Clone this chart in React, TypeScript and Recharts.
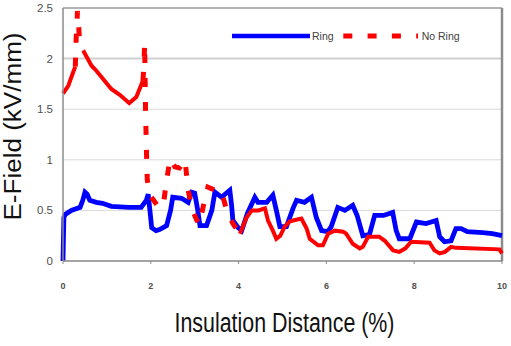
import React from 'react';
import { LineChart, Line, XAxis, YAxis, CartesianGrid, ReferenceLine, Legend, Label } from 'recharts';

// Insulation distance (%) and E-field (kV/mm)
const ringX = [0, 0.02, 0.05, 0.19, 0.39, 0.45, 0.5, 0.55, 0.61, 0.76, 0.9, 1.1, 1.5, 1.78, 1.9, 1.94, 1.98, 2.02, 2.12, 2.2, 2.36, 2.45, 2.5, 2.7, 2.85, 2.93, 3.0, 3.07, 3.12, 3.27, 3.39, 3.46, 3.61, 3.8, 3.84, 3.87, 3.99, 4.07, 4.2, 4.37, 4.44, 4.64, 4.78, 4.86, 4.94, 5.09, 5.24, 5.32, 5.5, 5.66, 5.77, 5.89, 6.03, 6.11, 6.26, 6.42, 6.6, 6.7, 6.83, 6.98, 7.1, 7.3, 7.51, 7.59, 7.66, 7.9, 8.05, 8.27, 8.5, 8.58, 8.69, 8.84, 8.95, 9.07, 9.21, 9.56, 9.78, 10];
const ringY = [0, 0.43, 0.46, 0.5, 0.53, 0.6, 0.68, 0.66, 0.6, 0.58, 0.57, 0.54, 0.53, 0.53, 0.6, 0.66, 0.5, 0.33, 0.3, 0.31, 0.35, 0.5, 0.63, 0.62, 0.58, 0.68, 0.67, 0.5, 0.35, 0.35, 0.5, 0.68, 0.63, 0.7, 0.55, 0.4, 0.33, 0.3, 0.47, 0.63, 0.58, 0.58, 0.65, 0.5, 0.34, 0.34, 0.52, 0.6, 0.58, 0.63, 0.43, 0.3, 0.29, 0.34, 0.53, 0.5, 0.55, 0.45, 0.25, 0.26, 0.45, 0.45, 0.48, 0.3, 0.22, 0.22, 0.385, 0.37, 0.4, 0.24, 0.19, 0.2, 0.32, 0.32, 0.29, 0.28, 0.27, 0.25];

const noRingX = [0, 0.12, 0.235, 0.28, 0.3, 0.33, 0.36, 0.38, 0.46, 0.65, 0.76, 1.1, 1.3, 1.51, 1.67, 1.82, 1.84, 1.86, 1.88, 1.9, 1.92, 1.98, 2.2, 2.3, 2.35, 2.44, 2.55, 2.65, 2.78, 2.85, 2.95, 3.05, 3.1, 3.19, 3.3, 3.46, 3.6, 3.73, 3.87, 4.03, 4.18, 4.3, 4.45, 4.6, 4.67, 4.78, 4.86, 4.95, 5.05, 5.16, 5.24, 5.43, 5.55, 5.62, 5.81, 5.92, 6.04, 6.19, 6.38, 6.45, 6.6, 6.76, 6.83, 6.95, 7.2, 7.33, 7.52, 7.66, 7.8, 7.93, 8.35, 8.46, 8.58, 8.7, 8.84, 8.95, 9.94, 10];
const noRingY = [1.655, 1.73, 1.87, 1.92, 2.2, 2.47, 2.3, 2.15, 2.08, 1.93, 1.88, 1.7, 1.64, 1.56, 1.62, 1.78, 1.9, 2.15, 1.5, 1.1, 0.8, 0.65, 0.52, 0.6, 0.77, 1.01, 0.93, 0.92, 1.0, 0.7, 0.5, 0.4, 0.36, 0.53, 0.73, 0.7, 0.7, 0.5, 0.37, 0.27, 0.43, 0.5, 0.5, 0.52, 0.4, 0.3, 0.22, 0.25, 0.34, 0.39, 0.4, 0.42, 0.32, 0.22, 0.155, 0.155, 0.27, 0.3, 0.29, 0.27, 0.17, 0.125, 0.14, 0.24, 0.24, 0.2, 0.105, 0.09, 0.125, 0.19, 0.18, 0.105, 0.075, 0.09, 0.14, 0.13, 0.115, 0.075];

// ranges of the No Ring curve where the dashes show up
const dashedRanges = [[0.28, 0.46], [1.82, 4.03]];

const xTicks = [0, 2, 4, 6, 8, 10];
const yTicks = [0, 0.5, 1, 1.5, 2, 2.5];
const seriesNames = ['Ring', 'No Ring'];
const xTitle = 'Insulation Distance (%)';
const yTitle = 'E-Field (kV/mm)';

const BLUE = '#0000FF';
const RED = '#FF0000';
const FONT = "'Liberation Sans', Arial, sans-serif";

const ringData = ringX.map((x, i) => ({ x, y: ringY[i] }));

const segDashed = (a: number, b: number) => {
  const m = (a + b) / 2;
  return dashedRanges.some(([lo, hi]) => m >= lo && m <= hi);
};

const noRingSolid: { x: number; y: number | null }[] = [];
const noRingDashed: { x: number; y: number | null }[] = [];
noRingX.forEach((x, i) => {
  const n = noRingX.length;
  const prev = i > 0 ? segDashed(noRingX[i - 1], x) : null;
  const next = i < n - 1 ? segDashed(x, noRingX[i + 1]) : null;
  const inSolid = prev === false || next === false;
  const inDashed = prev === true || next === true;
  noRingSolid.push({ x, y: inSolid ? noRingY[i] : null });
  noRingDashed.push({ x, y: inDashed ? noRingY[i] : null });
});

const renderLegend = () => (
  <svg width={240} height={20} style={{ display: 'block' }}>
    <line x1={2} y1={10} x2={80} y2={10} stroke={BLUE} strokeWidth={4.5} />
    <text x={82} y={14} fontSize={10.5} fill="#404040" fontFamily={FONT}>
      {seriesNames[0]}
    </text>
    <line x1={113.3} y1={10} x2={188} y2={10} stroke={RED} strokeWidth={5} strokeDasharray="9 15.3" />
    <text x={191.7} y={14} fontSize={10.5} fill="#404040" fontFamily={FONT}>
      {seriesNames[1]}
    </text>
  </svg>
);

const XTitle = (props: any) => {
  const vb = props.viewBox || {};
  const cx = vb.x + vb.width / 2 + 2;
  const y = vb.y + 71;
  return (
    <text
      x={cx}
      y={y}
      textAnchor="middle"
      fontSize={27}
      fill="#111"
      fontFamily={FONT}
      textLength={220}
      lengthAdjust="spacingAndGlyphs"
    >
      {xTitle}
    </text>
  );
};

const YTitle = (props: any) => {
  const vb = props.viewBox || {};
  const cx = 21;
  const cy = vb.y + vb.height / 2 - 8;
  return (
    <text
      x={cx}
      y={cy}
      transform={`rotate(-90, ${cx}, ${cy})`}
      textAnchor="middle"
      fontSize={23}
      fill="#111"
      fontFamily={FONT}
      textLength={188}
      lengthAdjust="spacingAndGlyphs"
    >
      {yTitle}
    </text>
  );
};

export default function App() {
  return (
    <div style={{ position: 'absolute', left: 0, top: 0, width: 511, height: 346, background: '#fff' }}>
      <LineChart width={511} height={346} margin={{ top: 8, right: 9, bottom: 0, left: 0 }}>
        <CartesianGrid vertical={false} stroke="#d9d9d9" strokeWidth={1} />
        <ReferenceLine y={2} stroke="#d0d0d0" strokeWidth={2} />
        <ReferenceLine y={2.5} stroke="#a0a0a0" strokeWidth={1.5} />
        <ReferenceLine x={10} stroke="#8c8c8c" strokeWidth={2.5} />
        <XAxis
          type="number"
          dataKey="x"
          domain={[0, 10]}
          ticks={xTicks}
          height={65}
          axisLine={{ stroke: '#8c8c8c', strokeWidth: 1.5 }}
          tickLine={{ stroke: '#8c8c8c' }}
          tickSize={3}
          tickMargin={19}
          tick={{ fontSize: 9, fontWeight: 'bold', fill: '#505050', fontFamily: FONT }}
          interval={0}
        >
          <Label content={XTitle} />
        </XAxis>
        <YAxis
          type="number"
          domain={[0, 2.5]}
          ticks={yTicks}
          width={63}
          axisLine={{ stroke: '#8c8c8c', strokeWidth: 1.5 }}
          tickLine={false}
          tickSize={0}
          tickMargin={10}
          tick={{ fontSize: 11.5, fill: '#505050', fontFamily: FONT }}
          interval={0}
        >
          <Label content={YTitle} />
        </YAxis>
        <Legend content={renderLegend} wrapperStyle={{ top: 26, left: 230, width: 240, height: 20 }} />
        <Line
          data={ringData}
          dataKey="y"
          name={seriesNames[0]}
          stroke={BLUE}
          strokeWidth={4.8}
          dot={false}
          activeDot={false}
          isAnimationActive={false}
        />
        <Line
          data={noRingSolid}
          dataKey="y"
          name={seriesNames[1]}
          stroke={RED}
          strokeWidth={4}
          dot={false}
          activeDot={false}
          connectNulls={false}
          isAnimationActive={false}
        />
        <Line
          data={noRingDashed}
          dataKey="y"
          name={seriesNames[1] + ' '}
          stroke={RED}
          strokeWidth={5}
          strokeDasharray="9 15"
          dot={false}
          activeDot={false}
          connectNulls={false}
          legendType="none"
          isAnimationActive={false}
        />
      </LineChart>
    </div>
  );
}
